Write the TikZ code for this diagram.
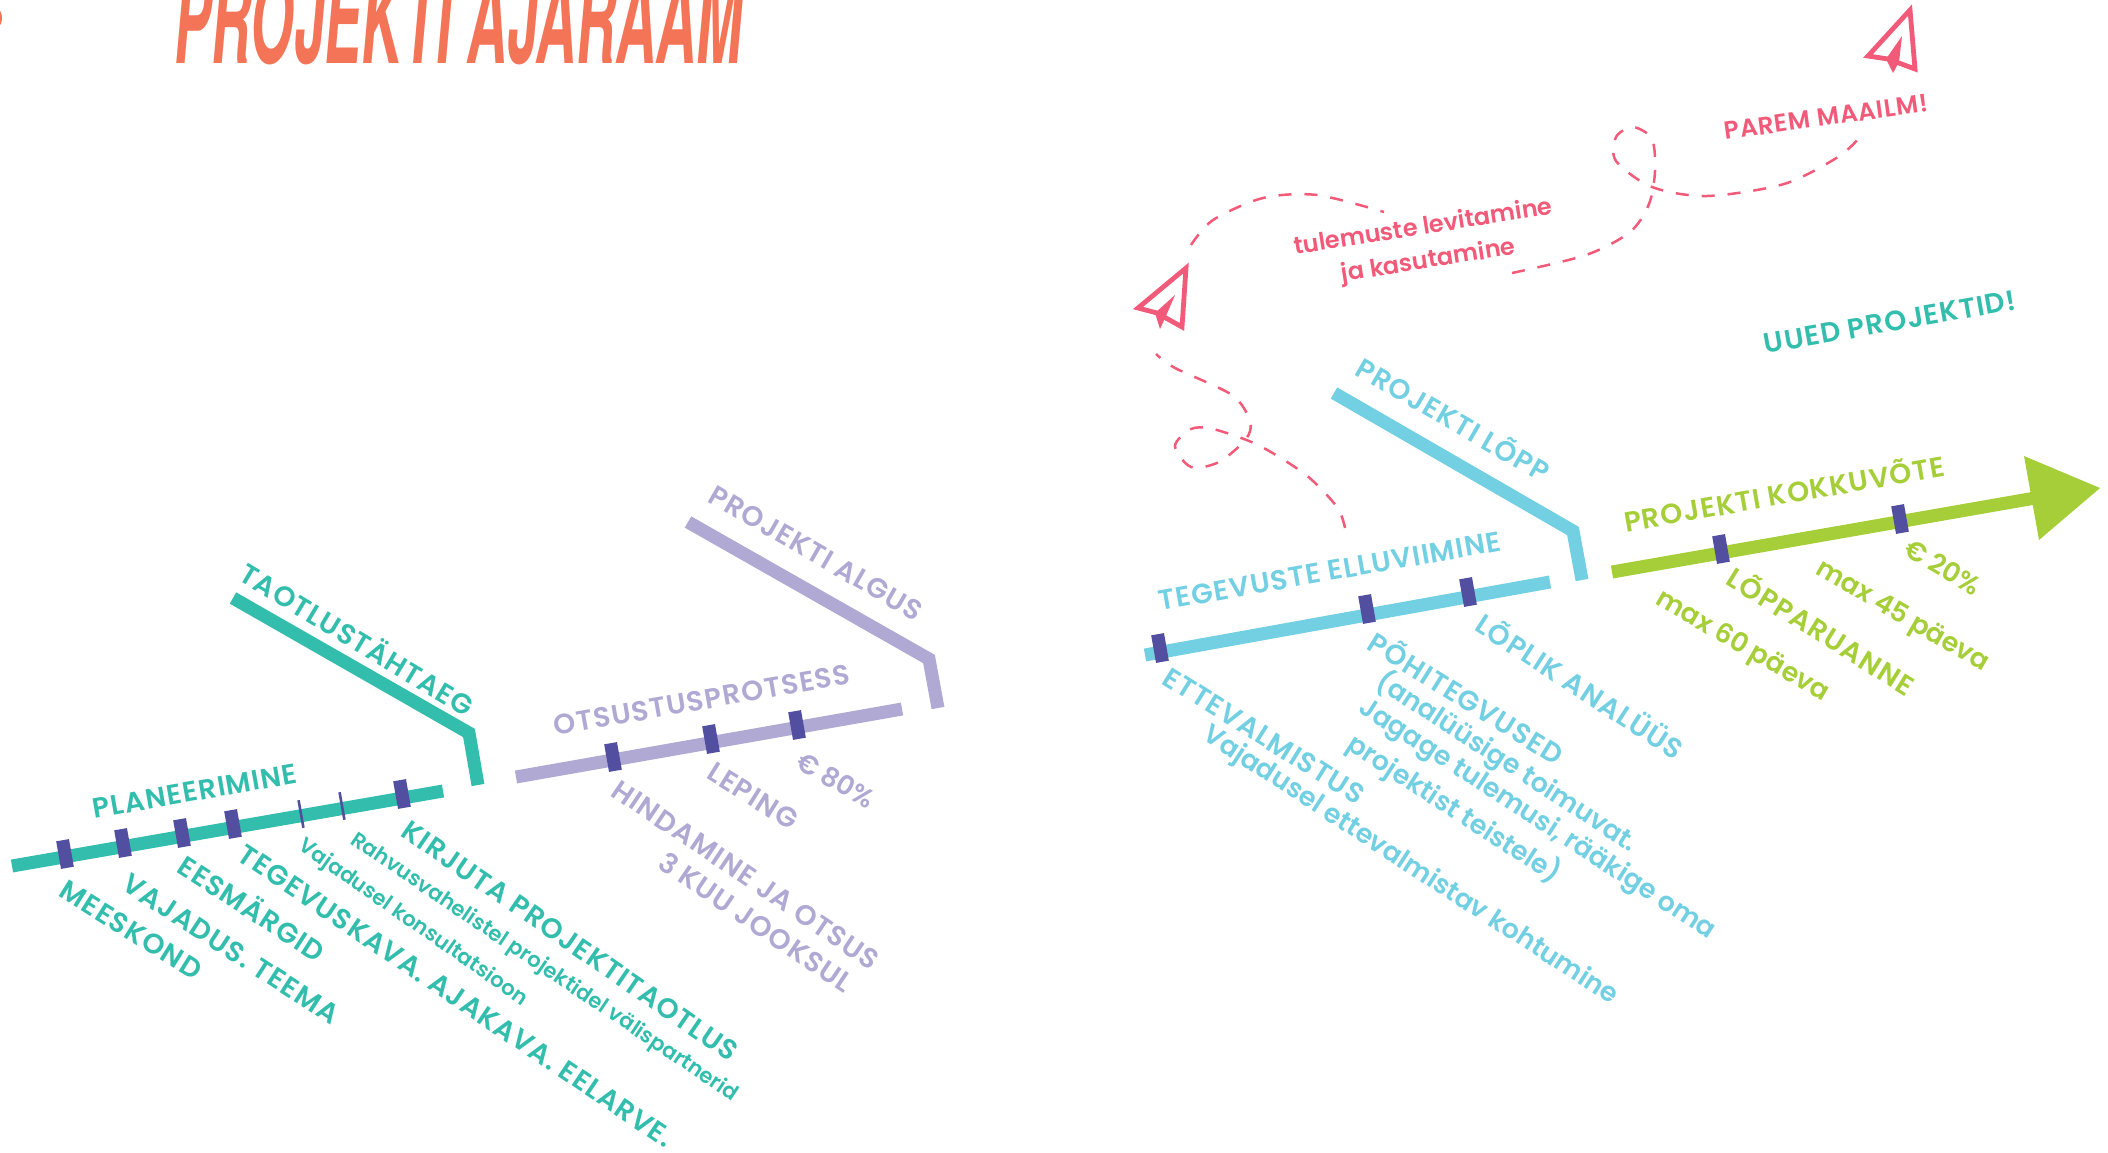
\documentclass[tikz,border=0pt]{standalone}
\usepackage{fontspec}
\setmainfont{Poppins}[BoldFont={Poppins SemiBold}]
\newfontfamily\titlefont{TeX Gyre Heros}
\usepackage{tikz}
\usetikzlibrary{calc}
\definecolor{plangreen}{HTML}{33BDAD}
\definecolor{otsuslilac}{HTML}{AFA9D3}
\definecolor{tegevblue}{HTML}{73CFE2}
\definecolor{kokkulime}{HTML}{A6CE39}
\definecolor{tickpurple}{HTML}{524EA0}
\definecolor{flightpink}{HTML}{F15A78}
\definecolor{titleorange}{HTML}{F47458}
\tikzset{
	track/.style={line width=6.5pt},
	tick/.style={fill=tickpurple,inner sep=0pt,minimum width=6.5pt,minimum height=14pt,rotate=10},
	thintick/.style={fill=tickpurple,inner sep=0pt,minimum width=1.3pt,minimum height=14pt,rotate=10},
	biglab/.style={font=\fontsize{14}{18}\selectfont\bfseries\addfontfeature{LetterSpace=4},align=center,inner sep=0pt},
	lowlab/.style={font=\fontsize{13.4}{17}\selectfont\bfseries,align=center,inner sep=0pt},
	smalllab/.style={font=\fontsize{10.6}{12}\selectfont\bfseries,align=center,inner sep=0pt},
	pinklab/.style={text=flightpink,align=center,inner sep=0pt},
	flight/.style={flightpink,line width=1.25pt,dash pattern=on 6.5pt off 6.5pt},
	plane/.style={draw=flightpink,line width=2.4pt,line join=miter,fill=white}
}
\begin{document}
\begin{tikzpicture}[x=0.5pt,y=-0.5pt]
	\useasboundingbox (0,0) rectangle (2108,1152);
	\clip (0,0) rectangle (2108,1152);
	%title, cut by the page
	\node[anchor=base west,inner sep=0pt,text=titleorange,transform shape,xscale=.447,xslant=.2,font=\titlefont\fontsize{62}{62}\selectfont\bfseries] (title) at (172,63) {PROJEKTI AJARAAM};
	\fill[titleorange] (-3,18) ellipse (5 and 9);

	%planeerimine
	\coordinate (plan_s) at (12,866);
	\coordinate (plan_e) at (443,791);
	\coordinate (plan_a) at (233,598);
	\coordinate (plan_b) at (469,733);
	\coordinate (plan_c) at (478,785);
	\draw[track,plangreen] (plan_s)--(plan_e);
	\draw[track,plangreen] (plan_a)--(plan_b)--(plan_c);
	\foreach \x/\y [count=\i] in {65/854,123/843,182/833,233/824,402/794}
		\node[tick] (plan_t\i) at (\x,\y) {};
	\node[thintick] (plan_u1) at (301,814) {};
	\node[thintick] (plan_u2) at (342,806) {};
	\node[biglab,text=plangreen,rotate=10] (planeerimine) at (195,791) {PLANEERIMINE};
	\node[biglab,text=plangreen,rotate=-31] (taotlus) at (358,638) {TAOTLUSTÄHTAEG};
	\node[biglab,text=plangreen,rotate=-32] (meeskond) at (131,930) {MEESKOND};
	\node[biglab,text=plangreen,rotate=-33] (vajadus) at (231,949) {VAJADUS. TEEMA};
	\node[biglab,text=plangreen,rotate=-33] (eesmargid) at (253,907) {EESMÄRGID};
	\node[biglab,text=plangreen,rotate=-34] (tegevuskava) at (456,996) {TEGEVUSKAVA. AJAKAVA. EELARVE.};
	\node[smalllab,text=plangreen,rotate=-35] (konsult) at (413,923) {Vajadusel konsultatsioon};
	\node[smalllab,text=plangreen,rotate=-34] (rahvus) at (544,968) {Rahvusvahelistel projektidel välispartnerid};
	\node[biglab,text=plangreen,rotate=-34.5] (kirjuta) at (570,941) {KIRJUTA PROJEKTITAOTLUS};

	%otsustusprotsess
	\coordinate (ots_s) at (516,777);
	\coordinate (ots_e) at (902,709);
	\coordinate (ots_a) at (688,522);
	\coordinate (ots_b) at (929,659);
	\coordinate (ots_c) at (938,708);
	\draw[track,otsuslilac] (ots_s)--(ots_e);
	\draw[track,otsuslilac] (ots_a)--(ots_b)--(ots_c);
	\foreach \x/\y [count=\i] in {613/757,711/739,797/725}
		\node[tick] (ots_t\i) at (\x,\y) {};
	\node[biglab,text=otsuslilac,rotate=10] (otsustus) at (702,700) {OTSUSTUSPROTSESS};
	\node[biglab,text=otsuslilac,rotate=-30] (algus) at (816,553) {PROJEKTI ALGUS};
	\node[lowlab,text=otsuslilac,rotate=-30] (protsent) at (836,780) {€ 80\%};
	\node[biglab,text=otsuslilac,rotate=-32] (leping) at (753,796) {LEPING};
	\node[biglab,text=otsuslilac,rotate=-34] (hindamine) at (746,875) {HINDAMINE JA OTSUS};
	\node[biglab,text=otsuslilac,rotate=-34] (kuud) at (756,922) {3 KUU JOOKSUL};

	%tegevuste elluviimine
	\coordinate (teg_s) at (1145,655);
	\coordinate (teg_e) at (1550,582);
	\coordinate (teg_a) at (1334,393);
	\coordinate (teg_b) at (1573,531);
	\coordinate (teg_c) at (1582,580);
	\draw[track,tegevblue] (teg_s)--(teg_e);
	\draw[track,tegevblue] (teg_a)--(teg_b)--(teg_c);
	\foreach \x/\y [count=\i] in {1160/648,1367/609,1468/592}
		\node[tick] (teg_t\i) at (\x,\y) {};
	\node[biglab,text=tegevblue,rotate=10] (tegevuste) at (1330,571) {TEGEVUSTE ELLUVIIMINE};
	\node[biglab,text=tegevblue,rotate=-30] (lopp) at (1454,418) {PROJEKTI LÕPP};
	\node[biglab,text=tegevblue,rotate=-33] (analuus) at (1581,685) {LÕPLIK ANALÜÜS};
	\node[biglab,text=tegevblue,rotate=-32] (ettevalm) at (1264,736) {ETTEVALMISTUS};
	\node[lowlab,text=tegevblue,rotate=-33] (vajadusel) at (1410,866) {Vajadusel ettevalmistav kohtumine};
	\node[biglab,text=tegevblue,rotate=-32] (pohi) at (1467,697) {PÕHITEGVUSED};
	\node[lowlab,text=tegevblue,rotate=-33] (anal) at (1507,762) {(analüüsige toimuvat.};
	\node[lowlab,text=tegevblue,rotate=-33] (jagage) at (1537,820) {Jagage tulemusi, rääkige oma};
	\node[lowlab,text=tegevblue,rotate=-33] (teistele) at (1454,809) {projektist teistele)};

	%projekti kokkuvote
	\coordinate (kok_s) at (1612,572);
	\coordinate (kok_e) at (2035,498);
	\draw[track,kokkulime] (kok_s)--(kok_e);
	\coordinate (kok_p1) at (2024,456);
	\coordinate (kok_p2) at (2100,488);
	\coordinate (kok_p3) at (2039,540);
	\fill[kokkulime] (kok_p1)--(kok_p2)--(kok_p3)--cycle;
	\foreach \x/\y [count=\i] in {1721/549,1900/519}
		\node[tick] (kok_t\i) at (\x,\y) {};
	\node[biglab,text=kokkulime,rotate=10] (kokkuvote) at (1784,492) {PROJEKTI KOKKUVÕTE};
	\node[lowlab,text=kokkulime,rotate=-30] (kaks) at (1943,567) {€ 20\%};
	\node[lowlab,text=kokkulime,rotate=-30] (max45) at (1902,617) {max 45 päeva};
	\node[biglab,text=kokkulime,rotate=-32] (loppar) at (1822,630) {LÕPPARUANNE};
	\node[lowlab,text=kokkulime,rotate=-30] (max60) at (1742,647) {max 60 päeva};
	\node[biglab,text=plangreen,rotate=10] (uued) at (1890,322) {UUED PROJEKTID!};
	\node[pinklab,rotate=8,font=\fontsize{12.4}{16}\selectfont\bfseries\addfontfeature{LetterSpace=3}] (parem) at (1826,117) {PAREM MAAILM!};
	\node[pinklab,rotate=9,font=\fontsize{12}{17}\selectfont\bfseries] (tulemuste) at (1426,245) {tulemuste levitamine\\ja kasutamine};

	%dashed flights
	\draw[flight] plot[smooth] coordinates {(1345,528)(1337,507)(1306,475)(1258,445)(1213,429)(1191,429)(1175,446)(1191,467)(1219,462)(1246,439)(1250,421)(1232,395)(1175,368)(1156,354)};
	\draw[flight] plot[smooth] coordinates {(1191,245)(1213,220)(1263,198)(1317,195)(1384,212)};
	\draw[flight] plot[smooth] coordinates {(1512,273)(1586,255)(1630,232)(1649,204)(1655,171)(1652,139)(1633,127)(1616,137)(1616,161)(1652,187)(1707,196)(1784,184)(1838,157)(1860,137)};

	%planes
	\draw[plane] (1186,268)--(1138,308)--(1157,313)--(1182,327)--cycle;
	\fill[flightpink] (1175,295)--(1155,313)--(1160,329)--(1166,316)--cycle;
	\draw[plane] (1910,10)--(1868,56)--(1888,59)--(1915,69)--cycle;
	\fill[flightpink] (1902,36)--(1886,59)--(1893,73)--(1899,62)--cycle;
\end{tikzpicture}
\end{document}
